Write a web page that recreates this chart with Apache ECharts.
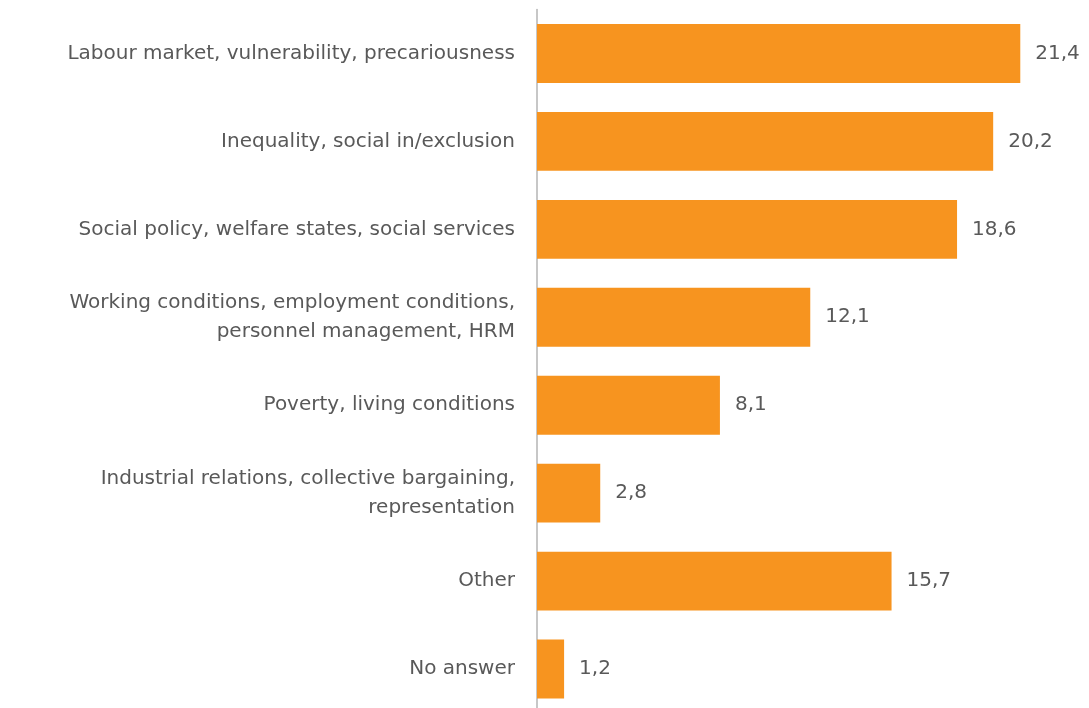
<!DOCTYPE html>
<html>
<head>
<meta charset="utf-8">
<script src="https://cdn.jsdelivr.net/npm/echarts@6/dist/echarts.min.js"></script>
<style>
  html, body { margin: 0; padding: 0; background: #fff; overflow: hidden; }
  #chart { width: 1089px; height: 720px; }
</style>
</head>
<body>
<div id="chart"></div>
<script>
// Research topics (share in %), listed top to bottom
const categories = [
  'Labour market, vulnerability, precariousness',
  'Inequality, social in/exclusion',
  'Social policy, welfare states, social services',
  'Working conditions, employment conditions,\npersonnel management, HRM',
  'Poverty, living conditions',
  'Industrial relations, collective bargaining,\nrepresentation',
  'Other',
  'No answer'
];
const values = [21.4, 20.2, 18.6, 12.1, 8.1, 2.8, 15.7, 1.2];

const FONT = '"DejaVu Sans", "Noto Sans", sans-serif';
const chart = echarts.init(document.getElementById('chart'));

chart.setOption({
  animation: false,
  grid: { left: 537, top: 9.5, width: 542, height: 703.5, containLabel: false },
  xAxis: {
    type: 'value',
    min: 0,
    max: 24,
    show: false
  },
  yAxis: {
    type: 'category',
    data: categories,
    inverse: true,
    axisLine: { show: true, lineStyle: { color: '#b4b4b4', width: 1.5 } },
    axisTick: { show: false },
    axisLabel: {
      color: '#595959',
      fontFamily: FONT,
      fontSize: 20,
      lineHeight: 29,
      margin: 22,
      align: 'right'
    },
    splitLine: { show: false }
  },
  series: [{
    type: 'bar',
    data: values,
    barCategoryGap: '33%',
    itemStyle: { color: '#F7941F' },
    label: {
      show: true,
      position: 'right',
      distance: 15,
      color: '#595959',
      fontFamily: FONT,
      fontSize: 20,
      formatter: p => String(p.value).replace('.', ',')
    }
  }]
});
</script>
</body>
</html>
